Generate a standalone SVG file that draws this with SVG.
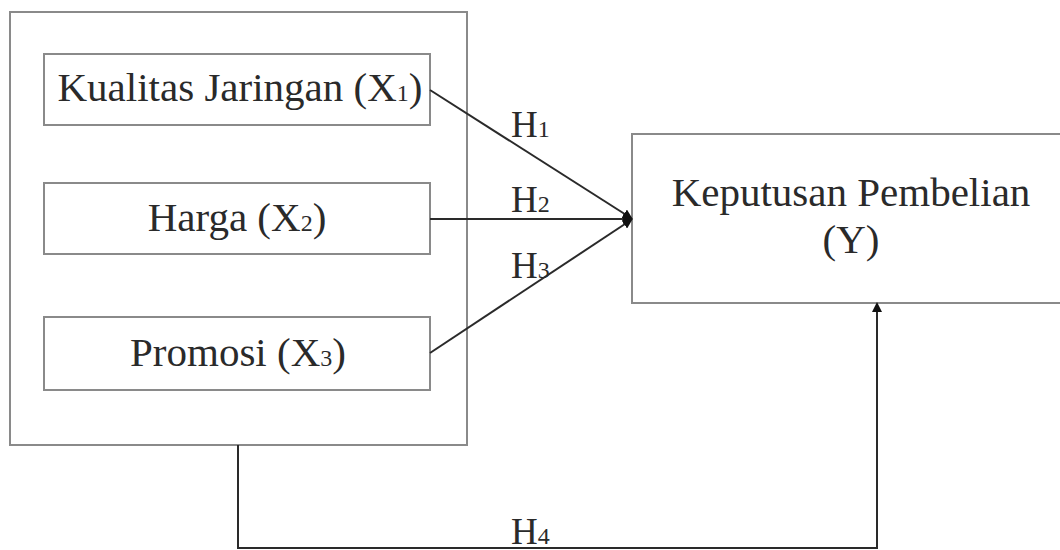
<svg xmlns="http://www.w3.org/2000/svg" width="1060" height="550" viewBox="0 0 1060 550">
<style>
.box{fill:#fff;stroke:#8a8a8a;stroke-width:2}
.t{font-family:"Liberation Serif","Times New Roman",serif;font-size:41px;fill:#2a2a2a}
.h{font-family:"Liberation Serif","Times New Roman",serif;font-size:37px;fill:#2a2a2a}
.s{font-size:24px}
.ln{stroke:#2a2a2a;stroke-width:2;fill:none}
</style>
<defs>
<marker id="ah" markerWidth="10" markerHeight="10" refX="8" refY="5" orient="auto" markerUnits="userSpaceOnUse">
<path d="M0,0 L10,5 L0,10 z" fill="#111"/>
</marker>
</defs>
<rect width="1060" height="550" fill="#fff"/>
<g id="group-x">
<rect class="box" x="10" y="12" width="457" height="433"/>
</g>
<g id="x1">
<rect class="box" x="44" y="54" width="386" height="71"/>
<text class="t" x="240" y="101" text-anchor="middle">Kualitas Jaringan (X<tspan class="s">1</tspan>)</text>
</g>
<g id="x2">
<rect class="box" x="44" y="183" width="386" height="71"/>
<text class="t" x="237" y="231" text-anchor="middle">Harga (X<tspan class="s">2</tspan>)</text>
</g>
<g id="x3">
<rect class="box" x="44" y="317" width="386" height="73"/>
<text class="t" x="238" y="366" text-anchor="middle">Promosi (X<tspan class="s">3</tspan>)</text>
</g>
<g id="y">
<rect class="box" x="632" y="134" width="440" height="169"/>
<text class="t" x="851" y="206" text-anchor="middle">Keputusan Pembelian</text>
<text class="t" x="851" y="253" text-anchor="middle">(Y)</text>
</g>
<g id="connectors">
<line class="ln" x1="430" y1="90" x2="631" y2="218" marker-end="url(#ah)"/>
<line class="ln" x1="430" y1="219" x2="631" y2="219" marker-end="url(#ah)"/>
<line class="ln" x1="430" y1="353" x2="631" y2="220" marker-end="url(#ah)"/>
<polyline class="ln" points="238,445 238,548 877,548 877,304" marker-end="url(#ah)"/>
<text class="h" x="511" y="137">H<tspan class="s">1</tspan></text>
<text class="h" x="511" y="212">H<tspan class="s">2</tspan></text>
<text class="h" x="511" y="278">H<tspan class="s">3</tspan></text>
<text class="h" x="511" y="544">H<tspan class="s">4</tspan></text>
</g>
</svg>
